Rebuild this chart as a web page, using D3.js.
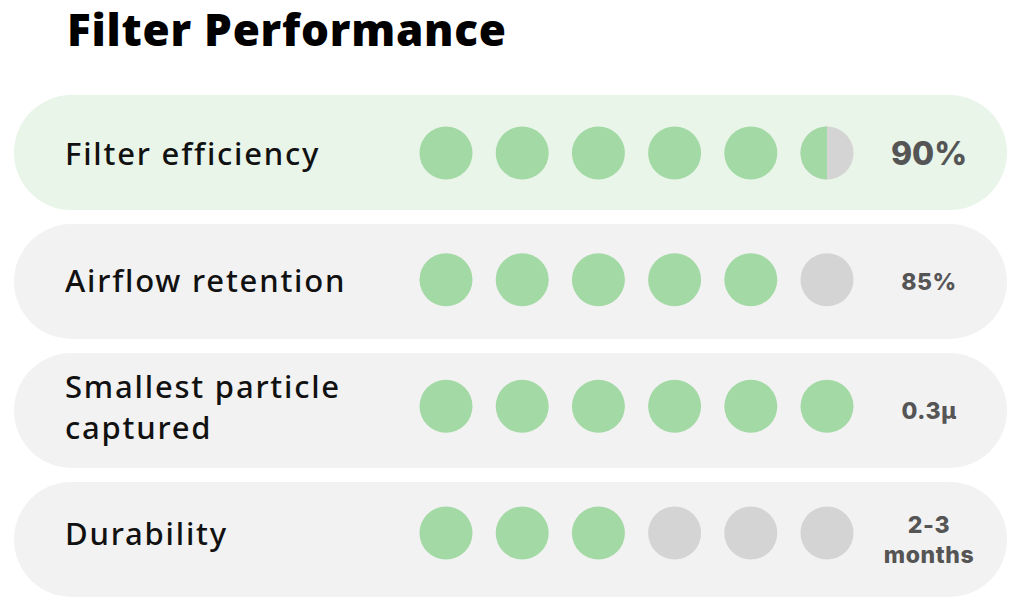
<!DOCTYPE html>
<html>
<head>
<meta charset="utf-8">
<script src="https://cdn.jsdelivr.net/npm/d3@7"></script>
<style>
  html, body { margin: 0; padding: 0; background: #ffffff; }
  svg { display: block; }
</style>
</head>
<body>
<svg id="chart" width="1024" height="609"></svg>
<script>
const title = "Filter Performance";
const categories = [["Filter efficiency"], ["Airflow retention"], ["Smallest particle", "captured"], ["Durability"]];
const scores = [5.5, 5, 6, 3];
const valueLabels = [["90%"], ["85%"], ["0.3μ"], ["2-3", "months"]];
const maxDots = 6;
const highlightIndex = 0;

const svg = d3.select("#chart");

const colors = {
  rowBg: "#f2f2f2",
  rowHi: "#e8f5e8",
  filled: "#a3d9a5",
  empty: "#d4d4d4",
  label: "#111111",
  value: "#555555",
  title: "#000000"
};

// title, fitted to the reference width
const titleText = svg.append("text")
  .attr("x", 67).attr("y", 46)
  .attr("font-family", "'Open Sans', Lato, sans-serif")
  .attr("font-weight", 800)
  .attr("font-size", 44)
  .attr("fill", colors.title)
  .text(title);
{
  const w = titleText.node().getComputedTextLength();
  const target = 439;
  const ls = (target - w) / (title.length - 1);
  titleText.attr("letter-spacing", ls.toFixed(2));
}

// row boxes
const y = d3.scaleBand()
  .domain(d3.range(categories.length))
  .range([95, 597])
  .paddingInner(0.1085)
  .paddingOuter(0);

// content (dots + labels) centres
const yc = d3.scalePoint()
  .domain(d3.range(categories.length))
  .range([153, 533]);

const x = d3.scalePoint()
  .domain(d3.range(maxDots))
  .range([446, 827]);

const rowX0 = 14, rowX1 = 1007;
const r = 26.5;

const data = categories.map((c, i) => ({ lines: c, score: scores[i], value: valueLabels[i], i }));

svg.selectAll("rect.row")
  .data(data)
  .join("rect")
  .attr("class", "row")
  .attr("x", rowX0)
  .attr("y", d => y(d.i))
  .attr("width", rowX1 - rowX0)
  .attr("height", y.bandwidth())
  .attr("rx", y.bandwidth() / 2)
  .attr("ry", y.bandwidth() / 2)
  .attr("fill", d => d.i === highlightIndex ? colors.rowHi : colors.rowBg);

// labels
data.forEach(d => {
  const n = d.lines.length;
  const lh = 41;
  const t = svg.append("text")
    .attr("font-family", "'Noto Sans', Lato, sans-serif")
    .attr("font-weight", 500)
    .attr("font-size", 31)
    .attr("letter-spacing", 1.8)
    .attr("fill", colors.label);
  d.lines.forEach((ln, k) => {
    t.append("tspan")
      .attr("x", 65)
      .attr("y", yc(d.i) + (k - (n - 1) / 2) * lh)
      .attr("dy", "0.4em")
      .text(ln);
  });
});

// dots
const arcLeft = d3.arc().innerRadius(0).outerRadius(r).startAngle(Math.PI).endAngle(2 * Math.PI);

data.forEach(d => {
  d3.range(maxDots).forEach(k => {
    const fill = Math.max(0, Math.min(1, d.score - k));
    svg.append("circle")
      .attr("cx", x(k))
      .attr("cy", yc(d.i))
      .attr("r", r)
      .attr("fill", fill >= 1 ? colors.filled : colors.empty);
    if (fill > 0 && fill < 1) {
      svg.append("path")
        .attr("transform", `translate(${x(k)},${yc(d.i)})`)
        .attr("d", arcLeft())
        .attr("fill", colors.filled);
    }
  });
});

// values
data.forEach(d => {
  const n = d.value.length;
  const hi = d.i === highlightIndex;
  const lh = 30;
  const cy = y(d.i) + y.bandwidth() / 2;
  const t = svg.append("text")
    .attr("text-anchor", "middle")
    .attr("font-family", "Inter, 'Open Sans', sans-serif")
    .attr("font-weight", 800)
    .attr("font-size", hi ? 32 : 23)
    .attr("letter-spacing", hi ? 0 : 0.6)
    .attr("fill", colors.value);
  d.value.forEach((ln, k) => {
    t.append("tspan")
      .attr("x", 929)
      .attr("y", cy + (k - (n - 1) / 2) * lh)
      .attr("dy", "0.38em")
      .text(ln);
  });
});
</script>
</body>
</html>
